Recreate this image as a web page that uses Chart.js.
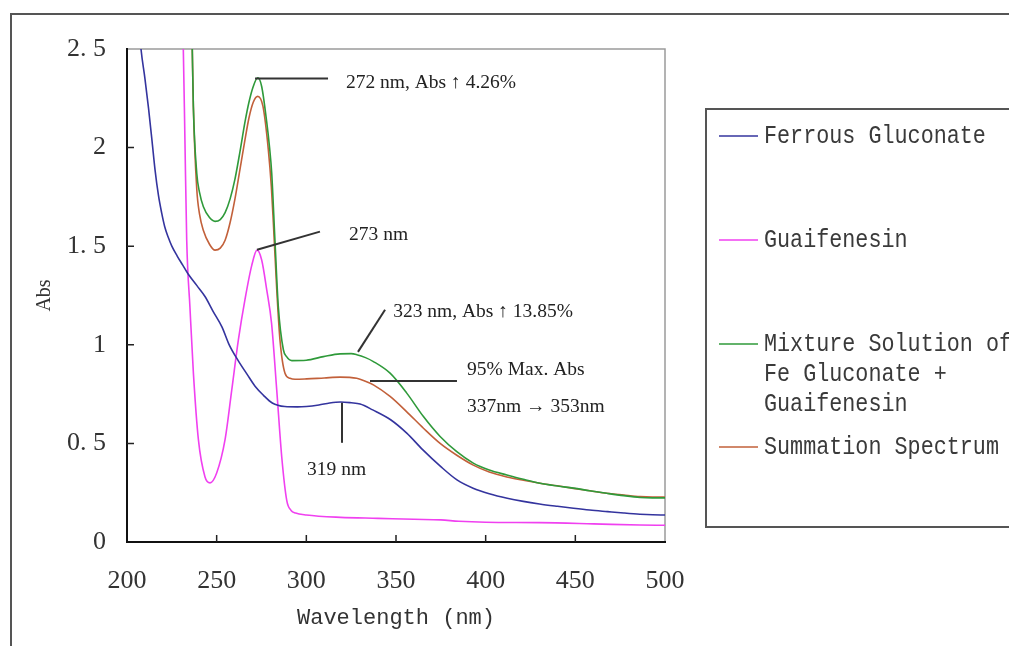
<!DOCTYPE html>
<html>
<head>
<meta charset="utf-8">
<script src="https://cdn.jsdelivr.net/npm/chart.js@4.4.0/dist/chart.umd.min.js"></script>
<style>
  html, body { margin: 0; padding: 0; background: #fff; }
  #wrap { width: 1009px; height: 646px; }
</style>
</head>
<body>
<div id="wrap"><canvas id="chart" width="1009" height="646"></canvas></div>
<script>
// Spectra (wavelength in nm, absorbance)
const ferrousNm = [206, 207.8, 210, 212, 214, 215.6, 217.5, 219.3, 221, 223, 225, 228, 231, 234, 239, 243.5, 248, 253, 257, 262, 267, 271.4, 276, 281, 288, 295, 300, 307, 313, 319, 325, 330, 337, 347, 356, 365, 375, 384, 393, 402, 412, 421, 430, 440, 449, 458, 468, 477, 486, 493, 500];
const ferrousAbs = [2.70, 2.5, 2.35, 2.20, 2.03, 1.89, 1.76, 1.67, 1.60, 1.545, 1.50, 1.45, 1.405, 1.36, 1.30, 1.245, 1.17, 1.09, 1.00, 0.92, 0.85, 0.79, 0.745, 0.705, 0.687, 0.685, 0.687, 0.695, 0.705, 0.71, 0.706, 0.70, 0.67, 0.62, 0.552, 0.467, 0.382, 0.315, 0.273, 0.245, 0.222, 0.206, 0.193, 0.181, 0.171, 0.162, 0.154, 0.147, 0.141, 0.138, 0.137];

const guaifNm = [230.5, 231.4, 232.3, 233.3, 235.1, 237, 239.8, 243.5, 246.3, 250, 254.7, 258.4, 262.1, 265.8, 269.5, 272.5, 275.1, 277.9, 280.6, 283.5, 286.3, 289.1, 291.5, 294, 300, 319, 340, 360, 375, 385, 400, 430, 460, 486, 500];
const guaifAbs = [2.7, 2.5, 2.04, 1.53, 1.19, 0.86, 0.52, 0.33, 0.30, 0.35, 0.52, 0.77, 1.025, 1.23, 1.40, 1.48, 1.43, 1.28, 1.11, 0.77, 0.43, 0.21, 0.16, 0.147, 0.137, 0.125, 0.12, 0.115, 0.112, 0.105, 0.10, 0.098, 0.092, 0.086, 0.085];

const mixtureNm = [235.8, 236.4, 237, 238.9, 240.5, 242.6, 246, 249.1, 252, 254.7, 257.5, 260.2, 263, 265.8, 268, 270.4, 272.9, 275.1, 277.9, 279.5, 280.7, 282.5, 284.4, 287.2, 289, 291.9, 300, 309.5, 318.8, 325, 328.1, 333, 337.4, 346.7, 356, 365.3, 374.6, 383.9, 393.1, 402, 411.8, 421, 430.3, 440, 448.9, 458, 467.5, 477, 486.1, 493, 500];
const mixtureAbs = [2.8, 2.5, 2.21, 1.87, 1.77, 1.70, 1.645, 1.626, 1.635, 1.67, 1.74, 1.84, 1.98, 2.13, 2.23, 2.31, 2.354, 2.31, 2.13, 2.00, 1.87, 1.53, 1.19, 0.975, 0.94, 0.92, 0.922, 0.94, 0.954, 0.955, 0.95, 0.935, 0.915, 0.856, 0.755, 0.636, 0.535, 0.458, 0.40, 0.365, 0.34, 0.318, 0.298, 0.284, 0.273, 0.26, 0.247, 0.235, 0.226, 0.224, 0.224];

const sumNm = [235.8, 236.4, 237, 238.9, 240.5, 242.6, 246, 249.1, 252, 254.7, 257.5, 260.2, 263, 265.8, 268, 270.4, 272.9, 275.8, 278.8, 280.5, 281.6, 283.5, 285.3, 288.1, 290.9, 293.7, 300.2, 310, 318.8, 328.1, 333, 337.4, 346.7, 356, 365.3, 374.6, 383.9, 393.1, 402, 411.8, 421, 430.3, 440, 448.9, 458, 467.5, 477, 486.1, 493, 500];
const sumAbs = [2.8, 2.5, 2.21, 1.79, 1.66, 1.58, 1.51, 1.48, 1.49, 1.53, 1.62, 1.74, 1.89, 2.04, 2.15, 2.23, 2.26, 2.21, 1.99, 1.80, 1.62, 1.28, 1.025, 0.856, 0.83, 0.825, 0.827, 0.832, 0.836, 0.83, 0.815, 0.797, 0.738, 0.66, 0.577, 0.50, 0.44, 0.39, 0.355, 0.33, 0.313, 0.298, 0.285, 0.272, 0.26, 0.247, 0.238, 0.23, 0.228, 0.228];

const seriesNames = ['Ferrous Gluconate', 'Guaifenesin', 'Mixture Solution of Fe Gluconate + Guaifenesin', 'Summation Spectrum'];
const legendLines = [['Ferrous Gluconate'], ['Guaifenesin'], ['Mixture Solution of', 'Fe Gluconate +', 'Guaifenesin'], ['Summation Spectrum']];
const seriesColors = ['#34349e', '#f040f0', '#2f9a3a', '#c2603a'];

const xTickValues = [200, 250, 300, 350, 400, 450, 500];
const yTickValues = [0, 0.5, 1, 1.5, 2, 2.5];
const yTickLabels = ['0', '0. 5', '1', '1. 5', '2', '2. 5'];

// Callouts: leader line (two points in data units) and label anchor
const notes = [
    { from: [271.4, 2.35], to: [312.1, 2.35], label: '272 nm, Abs \u2191 4.26%', at: [322.1, 2.33] },
    { from: [272.5, 1.482], to: [307.6, 1.574], label: '273 nm', at: [323.8, 1.558] },
    { from: [328.8, 0.964], to: [343.9, 1.178], label: '323 nm, Abs \u2191 13.85%', at: [348.4, 1.169] },
    { from: [335.5, 0.817], to: [384.0, 0.817], label: '95% Max. Abs', at: [389.6, 0.873] },
    { from: null, to: null, label: '337nm \u2192 353nm', at: [389.6, 0.687] },
    { from: [319.9, 0.706], to: [319.9, 0.503], label: '319 nm', at: [300.4, 0.365] }
];

const toPoints = (xs, ys) => xs.map((x, i) => ({ x, y: ys[i] }));

const spectra = [
    toPoints(ferrousNm, ferrousAbs),
    toPoints(guaifNm, guaifAbs),
    toPoints(mixtureNm, mixtureAbs),
    toPoints(sumNm, sumAbs)
];

// White page, outer frame and the grey top/right edges of the plot box
const framePlugin = {
    id: 'frame',
    beforeDraw(chart) {
        const { ctx, chartArea: a } = chart;
        ctx.save();
        ctx.fillStyle = '#fff';
        ctx.fillRect(0, 0, chart.width, chart.height);
        ctx.strokeStyle = '#555';
        ctx.lineWidth = 2;
        ctx.beginPath();
        ctx.moveTo(11, chart.height + 5);
        ctx.lineTo(11, 14);
        ctx.lineTo(chart.width + 5, 14);
        ctx.stroke();
        ctx.strokeStyle = '#9a9a9a';
        ctx.lineWidth = 1.5;
        ctx.beginPath();
        ctx.moveTo(a.left, a.top);
        ctx.lineTo(a.right, a.top);
        ctx.lineTo(a.right, a.bottom);
        ctx.stroke();
        ctx.restore();
    }
};

// Inward tick marks, callouts and the boxed legend
const overlayPlugin = {
    id: 'overlay',
    afterDraw(chart) {
        const { ctx, chartArea: a, scales: { x, y } } = chart;
        ctx.save();

        ctx.strokeStyle = '#222';
        ctx.lineWidth = 1.5;
        ctx.beginPath();
        yTickValues.slice(1, -1).forEach(v => {
            const py = y.getPixelForValue(v);
            ctx.moveTo(a.left, py);
            ctx.lineTo(a.left + 7, py);
        });
        xTickValues.slice(1, -1).forEach(v => {
            const px = x.getPixelForValue(v);
            ctx.moveTo(px, a.bottom);
            ctx.lineTo(px, a.bottom - 7);
        });
        ctx.stroke();

        ctx.strokeStyle = '#333';
        ctx.lineWidth = 2;
        ctx.fillStyle = '#222';
        ctx.font = '19.5px "Liberation Serif", serif';
        ctx.textAlign = 'left';
        ctx.textBaseline = 'middle';
        notes.forEach(n => {
            if (n.from) {
                ctx.beginPath();
                ctx.moveTo(x.getPixelForValue(n.from[0]), y.getPixelForValue(n.from[1]));
                ctx.lineTo(x.getPixelForValue(n.to[0]), y.getPixelForValue(n.to[1]));
                ctx.stroke();
            }
            ctx.fillText(n.label, x.getPixelForValue(n.at[0]), y.getPixelForValue(n.at[1]));
        });

        // legend box
        const boxLeft = 706, boxTop = 109, boxBottom = 527;
        ctx.strokeStyle = '#555';
        ctx.lineWidth = 2;
        ctx.strokeRect(boxLeft, boxTop, chart.width, boxBottom - boxTop);
        const rowY = [136, 240, 344, 447];
        ctx.font = '25px "Liberation Mono", monospace';
        ctx.fillStyle = '#3a3a3a';
        chart.data.datasets.forEach((ds, i) => {
            ctx.strokeStyle = ds.borderColor;
            ctx.lineWidth = 1.5;
            ctx.beginPath();
            ctx.moveTo(719, rowY[i]);
            ctx.lineTo(758, rowY[i]);
            ctx.stroke();
            legendLines[i].forEach((t, k) => {
                ctx.save();
                ctx.translate(764, rowY[i] + k * 30);
                ctx.scale(0.87, 1);
                ctx.fillText(t, 0, 0);
                ctx.restore();
            });
        });
        ctx.restore();
    }
};

new Chart(document.getElementById('chart'), {
    type: 'line',
    data: {
        datasets: spectra.map((pts, i) => ({
            label: seriesNames[i],
            data: pts,
            borderColor: seriesColors[i],
            backgroundColor: seriesColors[i],
            borderWidth: 1.6,
            pointRadius: 0,
            cubicInterpolationMode: 'monotone',
            fill: false
        }))
    },
    options: {
        responsive: false,
        animation: false,
        layout: { padding: { left: 0, top: 49, right: 344, bottom: 0 } },
        plugins: {
            legend: { display: false },
            tooltip: { enabled: false }
        },
        scales: {
            x: {
                type: 'linear',
                min: 200,
                max: 500,
                afterFit: (scale) => { scale.height = 104; },
                afterBuildTicks: (scale) => { scale.ticks = xTickValues.map(v => ({ value: v })); },
                grid: { display: false },
                border: { display: true, color: '#111', width: 2 },
                ticks: {
                    padding: 16,
                    color: '#333',
                    font: { family: '"Liberation Serif", serif', size: 26 }
                },
                title: {
                    display: true,
                    text: 'Wavelength (nm)',
                    color: '#333',
                    font: { family: '"Liberation Mono", monospace', size: 22 },
                    padding: { top: 0, bottom: 15 }
                }
            },
            y: {
                min: 0,
                max: 2.5,
                afterFit: (scale) => { scale.width = 127; },
                afterBuildTicks: (scale) => { scale.ticks = yTickValues.map(v => ({ value: v })); },
                grid: { display: false },
                border: { display: true, color: '#111', width: 2 },
                ticks: {
                    padding: 13,
                    color: '#333',
                    font: { family: '"Liberation Serif", serif', size: 26 },
                    callback: (value) => yTickLabels[yTickValues.indexOf(value)]
                },
                title: {
                    display: true,
                    text: 'Abs',
                    color: '#333',
                    font: { family: '"Liberation Serif", serif', size: 20 },
                    padding: { top: 33, bottom: 0 }
                }
            }
        }
    },
    plugins: [framePlugin, overlayPlugin]
});
</script>
</body>
</html>
